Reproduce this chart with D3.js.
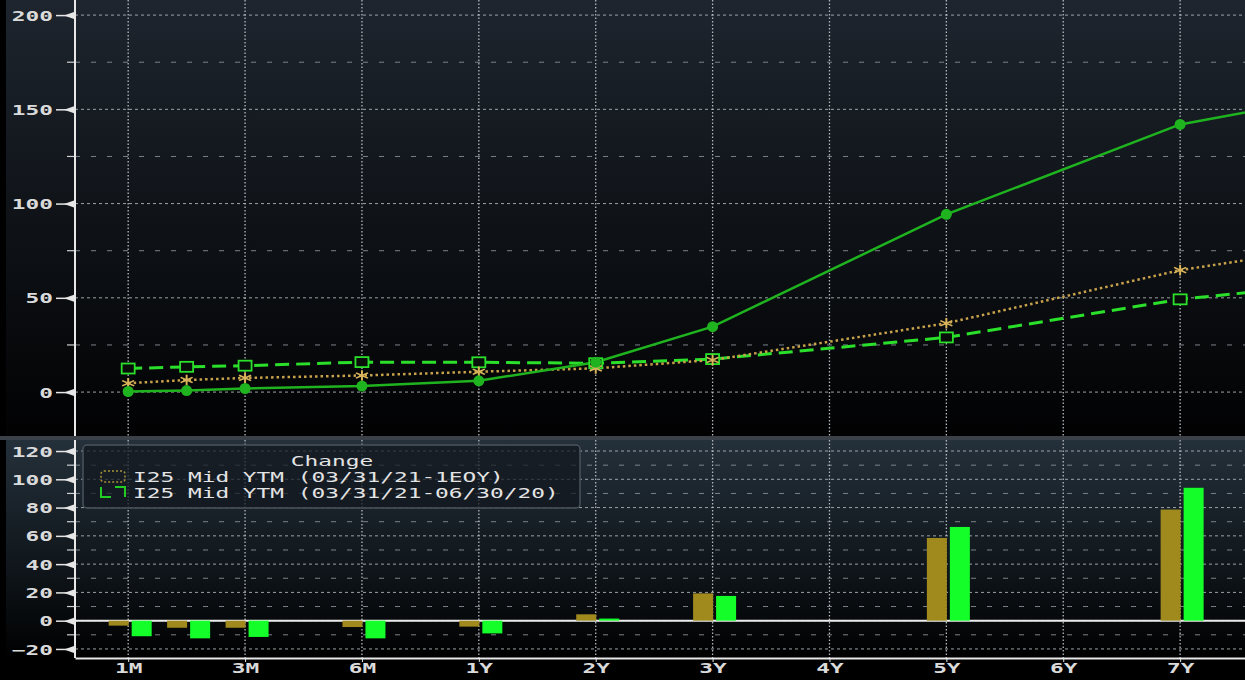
<!DOCTYPE html>
<html>
<head>
<meta charset="utf-8">
<script src="https://cdn.jsdelivr.net/npm/d3@7"></script>
<style>
body { margin: 0; background: #000; }
svg { display: block; }
.tick text { font-family: "DejaVu Sans Mono", monospace; font-weight: bold; font-size: 14px; fill: #dadada; }
.legend text { font-family: "DejaVu Sans Mono", monospace; font-size: 14px; fill: #e4e4e4; }
</style>
</head>
<body>
<div id="chart"></div>
<script>
// curve data (bp)
var tenors = ["1M", "2M", "3M", "6M", "1Y", "2Y", "3Y", "5Y", "7Y", "10Y"];
var tenorPos = [0, 0.5, 1, 2, 3, 4, 5, 7, 9, 12];
var axisLabels = ["1M", "3M", "6M", "1Y", "2Y", "3Y", "4Y", "5Y", "6Y", "7Y"];

var ytmNow = [0.3, 0.8, 1.9, 3.2, 6.0, 15.8, 34.7, 94.3, 142, 176];
var ytmEOY = [4.7, 6.4, 7.5, 8.8, 10.8, 12.6, 17, 36.5, 64.7, 93];
var ytmJun = [12.5, 13.4, 14, 15.9, 15.8, 15.3, 17.5, 29, 49.2, 68];

var chgEOY = [-3.5, -5, -5, -4.5, -4.2, 4.5, 19.3, 58.5, 78.6];
var chgJun = [-11, -12.5, -11.5, -12.5, -9, 1.5, 17.5, 66.3, 94];

var topTicks = [0, 50, 100, 150, 200];
var topMinor = [25, 75, 125, 175];
var botTicks = [-20, 0, 20, 40, 60, 80, 100, 120];
var botMinor = [-10, 10, 30, 50, 70, 90, 110];

var legendTitle = "Change";
var legendNames = ["I25 Mid YTM (03/31/21-1EOY)", "I25 Mid YTM (03/31/21-06/30/20)"];

var svgWidth = 1245;
var svgHeight = 680;
var axisX = 75;
var topPanel = { top: 0, bottom: 436 };
var botPanel = { top: 440, bottom: 658 };
var stretch = 1.63; // the source font is drawn wide

var svg = d3.select("#chart")
    .append("svg")
    .attr("width", svgWidth)
    .attr("height", svgHeight);

var defs = svg.append("defs");

var g1 = defs.append("linearGradient")
    .attr("id", "topBg")
    .attr("gradientUnits", "userSpaceOnUse")
    .attr("x1", 0).attr("x2", 0)
    .attr("y1", topPanel.top).attr("y2", topPanel.bottom);
g1.append("stop").attr("offset", 0).attr("stop-color", "#1e252e");
g1.append("stop").attr("offset", 0.5).attr("stop-color", "#0f1318");
g1.append("stop").attr("offset", 1).attr("stop-color", "#020203");

var g2 = defs.append("linearGradient")
    .attr("id", "botBg")
    .attr("gradientUnits", "userSpaceOnUse")
    .attr("x1", 0).attr("x2", 0)
    .attr("y1", botPanel.top).attr("y2", botPanel.bottom);
g2.append("stop").attr("offset", 0).attr("stop-color", "#24303a");
g2.append("stop").attr("offset", 0.6).attr("stop-color", "#0f151a");
g2.append("stop").attr("offset", 1).attr("stop-color", "#000000");

defs.append("clipPath").attr("id", "clipTop")
    .append("rect")
    .attr("x", axisX).attr("y", topPanel.top)
    .attr("width", svgWidth - axisX).attr("height", topPanel.bottom - topPanel.top);

// backgrounds
svg.append("rect")
    .attr("x", 6).attr("y", topPanel.top)
    .attr("width", svgWidth - 6).attr("height", topPanel.bottom - topPanel.top)
    .attr("fill", "url(#topBg)");
svg.append("rect")
    .attr("x", 0).attr("y", topPanel.bottom)
    .attr("width", svgWidth).attr("height", botPanel.top - topPanel.bottom)
    .attr("fill", "#3b4148");
svg.append("rect")
    .attr("x", 6).attr("y", botPanel.top)
    .attr("width", svgWidth - 6).attr("height", botPanel.bottom - botPanel.top)
    .attr("fill", "url(#botBg)");

var xScale = d3.scaleLinear()
    .domain([-0.455, 9.555])
    .range([axisX, svgWidth]);

var yTop = d3.scaleLinear()
    .domain([-23.3, 208])
    .range([topPanel.bottom, topPanel.top]);

var yBot = d3.scaleLinear()
    .domain([-26.4, 127.8])
    .range([botPanel.bottom, botPanel.top]);

// horizontal grid
function hGrid(scale, major, minor) {
    svg.append("g").selectAll("line")
        .data(minor)
        .enter()
        .append("line")
        .attr("x1", axisX).attr("x2", svgWidth)
        .attr("y1", d => scale(d)).attr("y2", d => scale(d))
        .attr("stroke", "#7c838a")
        .attr("stroke-dasharray", "5,11");
    svg.append("g").selectAll("line")
        .data(major)
        .enter()
        .append("line")
        .attr("x1", axisX).attr("x2", svgWidth)
        .attr("y1", d => scale(d)).attr("y2", d => scale(d))
        .attr("stroke", "#9ca2a8")
        .attr("stroke-dasharray", "3,3");
}
hGrid(yTop, topTicks, topMinor);
hGrid(yBot, botTicks, botMinor);

// vertical dotted grid
[topPanel, botPanel].forEach(function(p) {
    svg.append("g").selectAll("line")
        .data(axisLabels)
        .enter()
        .append("line")
        .attr("x1", (d, i) => xScale(i)).attr("x2", (d, i) => xScale(i))
        .attr("y1", p.top).attr("y2", p.bottom)
        .attr("stroke", "#b4b9be")
        .attr("stroke-width", 1.3)
        .attr("stroke-dasharray", "1.5,2");
});

// zero line in the change panel
svg.append("line")
    .attr("x1", axisX).attr("x2", svgWidth)
    .attr("y1", yBot(0)).attr("y2", yBot(0))
    .attr("stroke", "#ececec")
    .attr("stroke-width", 2);

// curves
var lineGroup = svg.append("g").attr("clip-path", "url(#clipTop)");

function curve(values, color, width, dash) {
    var line = d3.line()
        .x((d, i) => xScale(tenorPos[i]))
        .y(d => yTop(d));
    lineGroup.append("path")
        .datum(values)
        .attr("d", line)
        .attr("fill", "none")
        .attr("stroke", color)
        .attr("stroke-width", width)
        .attr("stroke-dasharray", dash);
}
curve(ytmJun, "#2be02b", 3, "14,7");
curve(ytmEOY, "#c9a24c", 2.5, "2.5,3");
curve(ytmNow, "#1fb41f", 2.5, null);

lineGroup.append("g").selectAll("rect")
    .data(ytmJun)
    .enter()
    .append("rect")
    .attr("x", (d, i) => xScale(tenorPos[i]) - 6.5)
    .attr("y", d => yTop(d) - 5)
    .attr("width", 13).attr("height", 10)
    .attr("fill", "#0a0e0a")
    .attr("stroke", "#2be02b")
    .attr("stroke-width", 1.8);

lineGroup.append("g").selectAll("path")
    .data(ytmEOY)
    .enter()
    .append("path")
    .attr("d", d3.symbol(d3.symbolAsterisk, 80))
    .attr("transform", (d, i) => `translate(${xScale(tenorPos[i])}, ${yTop(d)}) scale(1.3,1)`)
    .attr("fill", "none")
    .attr("stroke", "#d9b45a")
    .attr("stroke-width", 1.5);

lineGroup.append("g").selectAll("circle")
    .data(ytmNow)
    .enter()
    .append("circle")
    .attr("cx", (d, i) => xScale(tenorPos[i]))
    .attr("cy", d => yTop(d))
    .attr("r", 5.5)
    .attr("fill", "#1fb41f");

// change bars
var barW = 20;
svg.append("g").selectAll("rect")
    .data(chgEOY)
    .enter()
    .append("rect")
    .attr("x", (d, i) => xScale(tenorPos[i]) - barW + 0.5)
    .attr("y", d => yBot(Math.max(0, d)))
    .attr("width", barW)
    .attr("height", d => Math.abs(yBot(d) - yBot(0)))
    .attr("fill", "#a08a1e");

svg.append("g").selectAll("rect")
    .data(chgJun)
    .enter()
    .append("rect")
    .attr("x", (d, i) => xScale(tenorPos[i]) + 3.5)
    .attr("y", d => yBot(Math.max(0, d)))
    .attr("width", barW)
    .attr("height", d => Math.abs(yBot(d) - yBot(0)))
    .attr("fill", "#14ff2a");

// y axes
function yAxis(scale, major, minor, panel) {
    var ax = svg.append("g")
        .attr("transform", `translate(${axisX}, 0)`)
        .call(d3.axisLeft(scale).tickValues(major).tickSize(19).tickSizeOuter(0));
    ax.select(".domain").remove();
    ax.selectAll(".tick line")
        .attr("stroke", "#e6e6e6")
        .attr("stroke-width", 1.5);
    ax.selectAll(".tick").append("path")
        .attr("d", "M-11,0L-1,-3.5L-1,3.5Z")
        .attr("fill", "#e6e6e6");
    ax.selectAll(".tick text")
        .attr("x", -13.5)
        .attr("dy", "0.36em")
        .attr("transform", `scale(${stretch},1)`);
    ax.append("g").selectAll("line")
        .data(minor)
        .enter()
        .append("line")
        .attr("x1", -8).attr("x2", 0)
        .attr("y1", d => scale(d)).attr("y2", d => scale(d))
        .attr("stroke", "#d0d0d0")
        .attr("stroke-width", 1.2);
    ax.append("line")
        .attr("x1", 0).attr("x2", 0)
        .attr("y1", panel.top).attr("y2", panel.bottom)
        .attr("stroke", "#e8e8e8")
        .attr("stroke-width", 2);
}
yAxis(yTop, topTicks, topMinor, topPanel);
yAxis(yBot, botTicks, botMinor, botPanel);

// x axis
var xAx = svg.append("g")
    .attr("transform", `translate(0, ${botPanel.bottom})`)
    .call(d3.axisBottom(xScale)
        .tickValues(d3.range(axisLabels.length))
        .tickFormat(i => axisLabels[i])
        .tickSize(4)
        .tickSizeOuter(0));
xAx.select(".domain")
    .attr("stroke", "#e8e8e8")
    .attr("stroke-width", 2);
xAx.selectAll(".tick line").attr("stroke", "#e8e8e8");
xAx.selectAll(".tick text")
    .attr("y", 5)
    .attr("dy", "0.71em")
    .attr("transform", `scale(${stretch},1)`);

// legend
var legend = svg.append("g").attr("class", "legend");
legend.append("rect")
    .attr("x", 83).attr("y", 445)
    .attr("width", 497).attr("height", 63)
    .attr("rx", 4)
    .attr("fill", "rgba(18,24,30,0.72)")
    .attr("stroke", "#4a535c")
    .attr("stroke-width", 1.5);
legend.append("text")
    .attr("transform", `translate(332, 466) scale(${stretch},1)`)
    .attr("text-anchor", "middle")
    .text(legendTitle);
legend.append("rect")
    .attr("x", 101).attr("y", 471)
    .attr("width", 24).attr("height", 11)
    .attr("rx", 3)
    .attr("fill", "none")
    .attr("stroke", "#a8923a")
    .attr("stroke-width", 1.5)
    .attr("stroke-dasharray", "2,2");
legend.append("rect")
    .attr("x", 101).attr("y", 487)
    .attr("width", 24).attr("height", 10)
    .attr("fill", "none")
    .attr("stroke", "#22cc22")
    .attr("stroke-width", 2)
    .attr("stroke-dasharray", "0,14,20,14,20");
legend.selectAll(".name")
    .data(legendNames)
    .enter()
    .append("text")
    .attr("class", "name")
    .attr("transform", (d, i) => `translate(133, ${482 + i * 16}) scale(${stretch},1)`)
    .text(d => d);
</script>
</body>
</html>
